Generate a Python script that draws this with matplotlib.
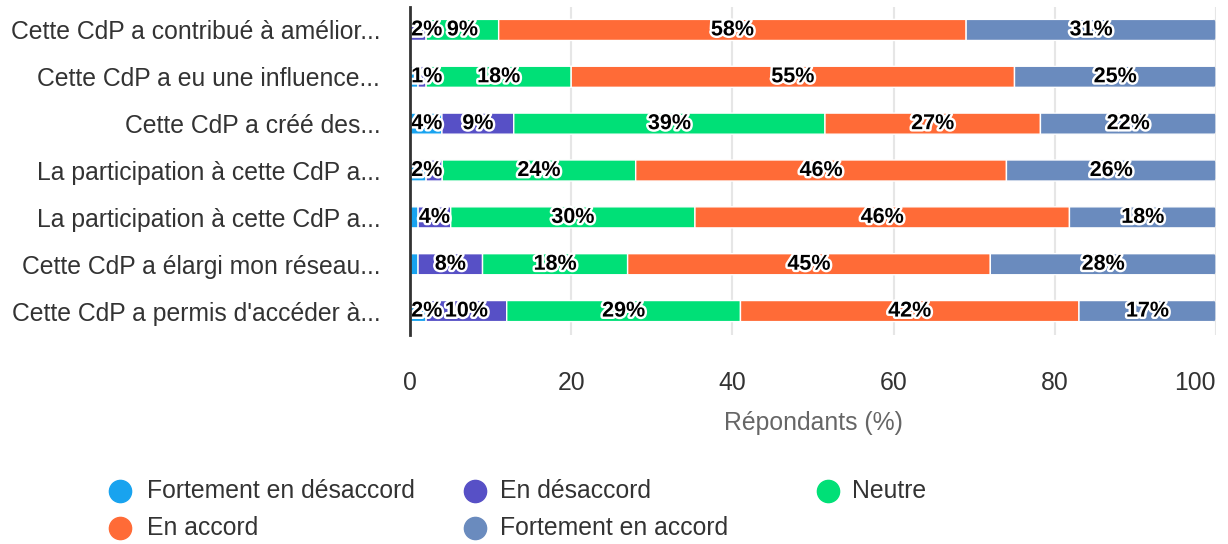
"""
Réponses à l'enquête CdP - barres empilées horizontales (pourcentages)
"""
import numpy as np
import matplotlib
matplotlib.use('Agg')
import matplotlib.pyplot as plt
import matplotlib.patheffects as pe
from matplotlib.patches import FancyBboxPatch
from matplotlib.lines import Line2D

plt.rcParams['font.family'] = ['Liberation Sans', 'DejaVu Sans']

# données
questions = [
    "Cette CdP a contribué à amélior...",
    "Cette CdP a eu une influence...",
    "Cette CdP a créé des...",
    "La participation à cette CdP a...",
    "La participation à cette CdP a...",
    "Cette CdP a élargi mon réseau...",
    "Cette CdP a permis d'accéder à...",
]
series_names = ["Fortement en désaccord", "En désaccord", "Neutre", "En accord", "Fortement en accord"]
fortement_desaccord = [0, 1, 4, 2, 1, 1, 2]
desaccord = [2, 1, 9, 2, 4, 8, 10]
neutre = [9, 18, 39, 24, 30, 18, 29]
accord = [58, 55, 27, 46, 46, 45, 42]
fortement_accord = [31, 25, 22, 26, 18, 28, 17]
# étiquettes masquées (chevauchement) : (ligne, série)
hidden_labels = [(1, 1), (3, 1), (4, 0), (5, 0)]

colors = ['#18a3ef', '#5750c6', '#00e077', '#ff6b37', '#6a8bbe']
x_ticks = [0, 20, 40, 60, 80, 100]

FS = 17.8

W, H = 1228, 544
fig = plt.figure(figsize=(W / 100, H / 100), dpi=100)
ax = fig.add_axes([410 / W, 1 - 334.5 / H, 806 / W, 328 / H])

data = np.array([fortement_desaccord, desaccord, neutre, accord, fortement_accord], dtype=float).T
totals = data.sum(axis=1, keepdims=True)
widths = data / totals * 100
y = np.arange(len(questions))
bar_h = 0.45

# rayon des coins arrondis (px -> unités données)
px_x = 100 / 806
px_y = 7 / 328
radius = 5 * px_x

outline = [pe.withStroke(linewidth=3.5, foreground='white')]

lefts = np.zeros(len(questions))
for j in range(5):
    w = widths[:, j]
    bars = ax.barh(y, w, left=lefts, height=bar_h, color=colors[j],
                   edgecolor='white', linewidth=1, zorder=2)
    for i, b in enumerate(bars):
        b.set_snap(False)
        if j == 4:
            # extrémité droite arrondie via un chemin de découpe
            clip = FancyBboxPatch((lefts[i] - 3, y[i] - bar_h / 2 - 0.02), w[i] + 3 - 0.05, bar_h + 0.04,
                                  boxstyle=f"round,pad=0,rounding_size={radius}",
                                  mutation_aspect=px_y / px_x, transform=ax.transData,
                                  facecolor='none', linewidth=0)
            b.set_clip_path(clip)
    for i in range(len(y)):
        val = data[i, j]
        if val <= 0 or (i, j) in hidden_labels:
            continue
        cx = lefts[i] + w[i] / 2
        txt = f"{int(val)}%"
        if cx < 2.0:
            ax.text(0.15, y[i], txt, ha='left', va='center', fontsize=15.5, fontweight='bold',
                    color='black', zorder=4, path_effects=outline)
        else:
            ax.text(cx, y[i], txt, ha='center', va='center', fontsize=15.5, fontweight='bold',
                    color='black', zorder=4, path_effects=outline)
    lefts = lefts + w

ax.set_xlim(0, 100)
ax.set_ylim(len(questions) - 0.5, -0.5)
ax.set_yticks(y)
ax.set_yticklabels(questions, fontsize=FS, color='#333333')
ax.set_xticks(x_ticks)
ax.set_xticklabels([str(t) for t in x_ticks], fontsize=FS, color='#333333')
ax.get_xticklabels()[-1].set_horizontalalignment('right')
ax.tick_params(axis='x', length=0, pad=26)
ax.tick_params(axis='y', length=0, pad=21.5)
ax.set_xlabel('Répondants (%)', fontsize=FS, color='#666666', labelpad=11.5)

ax.grid(axis='x', color='#e6e6e6', linewidth=1.5, zorder=0)
ax.set_axisbelow(True)
for s in ['top', 'right', 'bottom']:
    ax.spines[s].set_visible(False)
ax.spines['left'].set_color('#333333')
ax.spines['left'].set_linewidth(2)
ax.spines['left'].set_zorder(5)

# légende manuelle
legend_pos = [(120, 491, 147), (475, 491, 500), (828, 491, 852), (120, 528, 147), (475, 528, 500)]
for k in range(len(series_names)):
    mx, my, tx = legend_pos[k]
    fig.add_artist(Line2D([mx / W], [1 - my / H], marker='o', markersize=16,
                          color=colors[k], linestyle='none', transform=fig.transFigure))
    fig.text(tx / W, 1 - my / H, series_names[k], ha='left', va='center',
             fontsize=FS, color='#333333')

fig.savefig('out.png', dpi=100)
